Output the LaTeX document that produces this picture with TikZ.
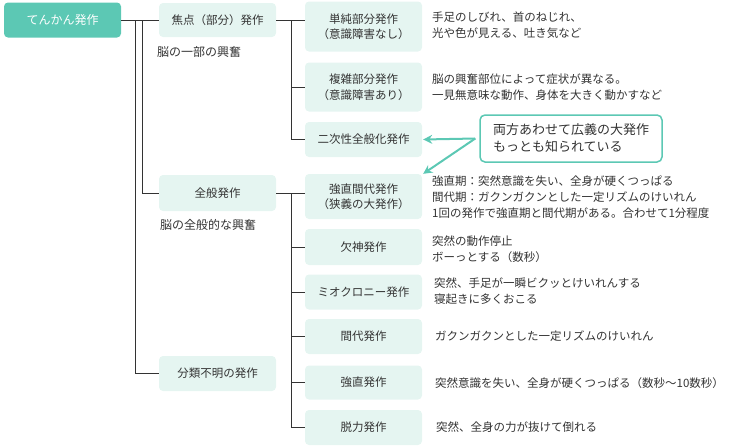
\documentclass[tikz,border=0pt]{standalone}
\usepackage{fontspec}
\setmainfont{Noto Sans CJK JP}
\usetikzlibrary{arrows.meta}
\definecolor{teal1}{HTML}{5CC8B4}
\definecolor{pale}{HTML}{E5F5F1}
\definecolor{ink}{HTML}{333333}
\begin{document}
\begin{tikzpicture}[x=1pt,y=-1pt,
  box/.style={fill=pale, rounded corners=4pt, minimum width=117pt, inner sep=0pt, align=center, text=ink, font=\fontsize{11.5}{15.5}\selectfont},
  desc/.style={anchor=west, align=left, inner sep=0pt, text=ink, font=\fontsize{11.5}{16}\selectfont},
  lbl/.style={anchor=west, inner sep=0pt, text=ink, font=\fontsize{12}{15}\selectfont},
  conn/.style={draw=ink, line width=0.9pt},
  callarrow/.style={draw=teal1, line width=2pt, -{Stealth[length=9pt,width=9pt]}}]
\useasboundingbox (0,0) rectangle (733,445);

% level 0
\node[box, fill=teal1, text=white, minimum height=35pt, font=\fontsize{12}{15}\selectfont] (root) at (62.5,20) {てんかん発作};

% level 1
\node[box, minimum height=34pt] (f) at (217.5,20) {焦点（部分）発作};
\node[box, minimum height=36pt] (g) at (217.5,193) {全般発作};
\node[box, minimum height=35pt] (u) at (217.5,373.5) {分類不明の発作};
\node[lbl] (lf) at (157,52) {脳の一部の興奮};
\node[lbl] (lg) at (160,225) {脳の全般的な興奮};

% level 2
\node[box, minimum height=50pt] (b1) at (363.5,26.5) {単純部分発作\\（意識障害なし）};
\node[box, minimum height=49pt] (b2) at (363.5,87) {複雑部分発作\\（意識障害あり）};
\node[box, minimum height=35pt] (b3) at (363.5,139.5) {二次性全般化発作};
\node[box, minimum height=45pt] (b4) at (363.5,196.5) {強直間代発作\\（狭義の大発作）};
\node[box, minimum height=36pt] (b5) at (363.5,247) {欠神発作};
\node[box, minimum height=35pt] (b6) at (363.5,292) {ミオクロニー発作};
\node[box, minimum height=35pt] (b7) at (363.5,336.5) {間代発作};
\node[box, minimum height=34pt] (b8) at (363.5,382.5) {強直発作};
\node[box, minimum height=35pt] (b9) at (363.5,427.5) {脱力発作};

% descriptions
\node[desc] (d1) at (432,25) {手足のしびれ、首のねじれ、\\光や色が見える、吐き気など};
\node[desc] (d2) at (432,87.5) {脳の興奮部位によって症状が異なる。\\一見無意味な動作、身体を大きく動かすなど};
\node[desc] (d4) at (432,197.5) {強直期：突然意識を失い、全身が硬くつっぱる\\間代期：ガクンガクンとした一定リズムのけいれん\\1回の発作で強直期と間代期がある。合わせて1分程度};
\node[desc] (d5) at (432,249.5) {突然の動作停止\\ボーっとする（数秒）};
\node[desc] (d6) at (434,291) {突然、手足が一瞬ビクッとけいれんする\\寝起きに多くおこる};
\node[desc] (d7) at (435,336) {ガクンガクンとした一定リズムのけいれん};
\node[desc] (d8) at (435,383) {突然意識を失い、全身が硬くつっぱる（数秒〜10数秒）};
\node[desc] (d9) at (436,427) {突然、全身の力が抜けて倒れる};

% callout
\node[draw=teal1, line width=1.5pt, fill=white, rounded corners=5pt, minimum width=182pt, minimum height=47pt, inner sep=0pt, align=left, text=ink, font=\fontsize{13}{17}\selectfont] (co) at (571,138.5) {両方あわせて広義の大発作\\もっとも知られている};
\draw[callarrow] ([xshift=-4pt]co.west) -- ([xshift=1pt]b3.east);
\draw[callarrow] ([xshift=-4pt]co.west) -- ([xshift=1pt]b4.north east);

% connectors
\coordinate (ja) at (135,20);
\coordinate (jb) at (142,20);
\draw[conn] (root.east) -- (f.west);
\draw[conn] (ja) |- (u.west);
\draw[conn] (jb) |- (g.west);

\coordinate (jc) at (291,20);
\draw[conn] (f.east) -- (b1.west |- f.east);
\draw[conn] (jc) |- (b3.west);
\draw[conn] (jc |- b2.west) -- (b2.west);

\coordinate (jd) at (291,193);
\draw[conn] (g.east) -- (b4.west |- g.east);
\draw[conn] (jd) |- (b9.west);
\draw[conn] (jd |- b5.west) -- (b5.west);
\draw[conn] (jd |- b6.west) -- (b6.west);
\draw[conn] (jd |- b7.west) -- (b7.west);
\draw[conn] (jd |- b8.west) -- (b8.west);
\end{tikzpicture}
\end{document}
